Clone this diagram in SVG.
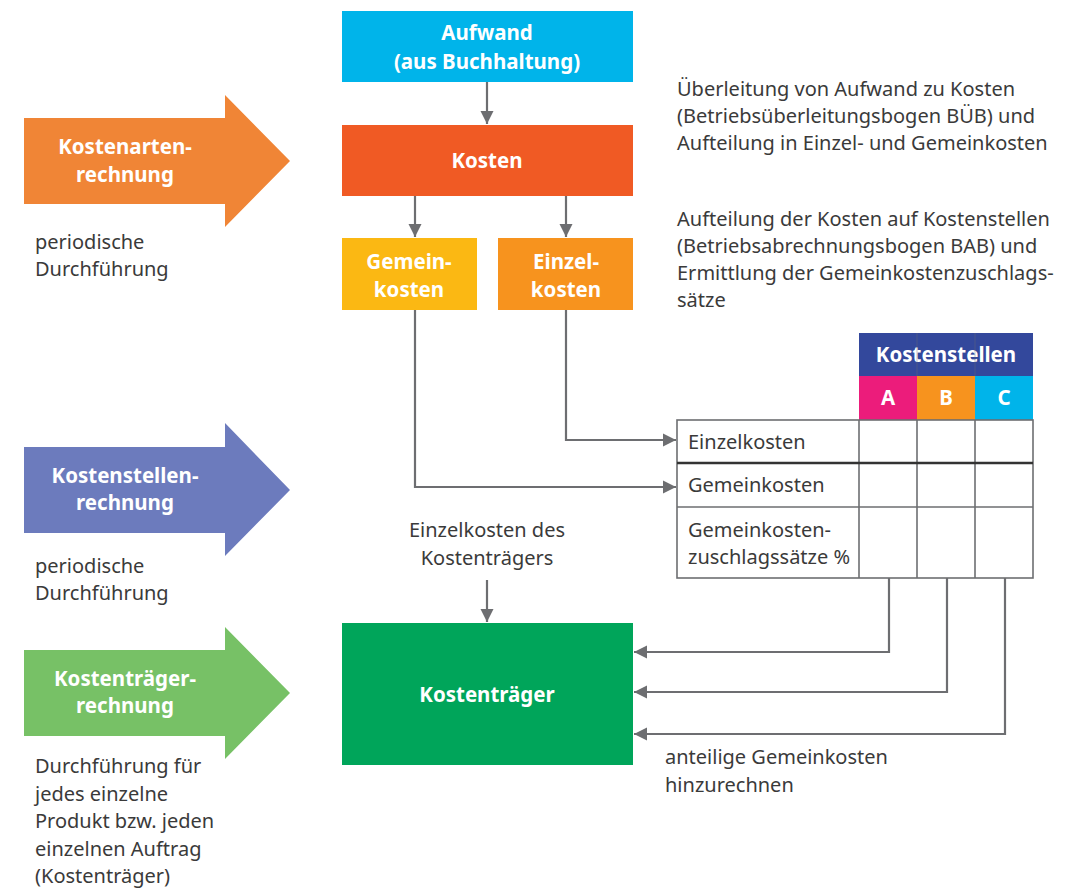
<svg xmlns="http://www.w3.org/2000/svg" width="1068" height="893" viewBox="0 0 1068 893">
<style>
.t{font-family:"Noto Sans","Open Sans",sans-serif;font-size:20px;fill:#3a3a3a}
.w{font-family:"Noto Sans","Open Sans",sans-serif;font-size:20.5px;font-weight:bold;fill:#ffffff;text-anchor:middle}
.ln{fill:none;stroke:#6d6e71;stroke-width:2.2}
.cell{fill:#ffffff;stroke:#6d6e71;stroke-width:1.6}
</style>
<defs>
<marker id="ah" viewBox="0 0 10 10" refX="10" refY="5" markerWidth="6" markerHeight="6" orient="auto" markerUnits="strokeWidth">
<path d="M0,0 L10,5 L0,10 z" fill="#6d6e71"/>
</marker>
</defs>
<rect width="1068" height="893" fill="#ffffff"/>

<g id="phase-kostenarten">
<path d="M24,118 H225 V95 L290,161 L225,227 V204 H24 z" fill="#f08536"/>
<text class="w" x="125" y="154">Kostenarten-</text>
<text class="w" x="125" y="182">rechnung</text>
<text class="t" x="35" y="249">periodische</text>
<text class="t" x="35" y="276">Durchführung</text>
</g>

<g id="phase-kostenstellen">
<path d="M24,447 H225 V423 L290,490 L225,556 V533 H24 z" fill="#6c7bbd"/>
<text class="w" x="125" y="483">Kostenstellen-</text>
<text class="w" x="125" y="510">rechnung</text>
<text class="t" x="35" y="573">periodische</text>
<text class="t" x="35" y="600">Durchführung</text>
</g>

<g id="phase-kostentraeger">
<path d="M24,650 H225 V627 L290,693 L225,759 V736 H24 z" fill="#77c166"/>
<text class="w" x="125" y="686">Kostenträger-</text>
<text class="w" x="125" y="713">rechnung</text>
<text class="t" x="35" y="773">Durchführung für</text>
<text class="t" x="35" y="801">jedes einzelne</text>
<text class="t" x="35" y="828">Produkt bzw. jeden</text>
<text class="t" x="35" y="856">einzelnen Auftrag</text>
<text class="t" x="35" y="883">(Kostenträger)</text>
</g>

<g id="node-aufwand">
<rect x="342" y="11" width="291" height="71" fill="#00b4ea"/>
<text class="w" x="487" y="40">Aufwand</text>
<text class="w" x="487" y="69">(aus Buchhaltung)</text>
</g>

<g id="node-kosten">
<rect x="342" y="125" width="291" height="71" fill="#f05a24"/>
<text class="w" x="487" y="168">Kosten</text>
</g>

<g id="node-gemeinkosten">
<rect x="342" y="238" width="135" height="72" fill="#fbb813"/>
<text class="w" x="409" y="269">Gemein-</text>
<text class="w" x="409" y="297">kosten</text>
</g>

<g id="node-einzelkosten">
<rect x="498" y="238" width="135" height="72" fill="#f7931e"/>
<text class="w" x="566" y="269">Einzel-</text>
<text class="w" x="566" y="297">kosten</text>
</g>

<g id="note-bueb">
<text class="t" x="677" y="96">Überleitung von Aufwand zu Kosten</text>
<text class="t" x="677" y="123">(Betriebsüberleitungsbogen BÜB) und</text>
<text class="t" x="677" y="150">Aufteilung in Einzel- und Gemeinkosten</text>
</g>

<g id="note-bab">
<text class="t" x="677" y="226">Aufteilung der Kosten auf Kostenstellen</text>
<text class="t" x="677" y="253">(Betriebsabrechnungsbogen BAB) und</text>
<text class="t" x="677" y="280">Ermittlung der Gemeinkostenzuschlags-</text>
<text class="t" x="677" y="307">sätze</text>
</g>

<g id="node-bab-table">
<rect x="859" y="333" width="174" height="43" fill="#33489c"/>
<text class="w" x="946" y="362">Kostenstellen</text>
<rect x="859" y="376" width="58" height="44" fill="#ec1c7b"/>
<rect x="917" y="376" width="58" height="44" fill="#f7931e"/>
<rect x="975" y="376" width="58" height="44" fill="#00b4ea"/>
<text class="w" x="888" y="405">A</text>
<text class="w" x="946" y="405">B</text>
<text class="w" x="1004" y="405">C</text>
<line x1="917" y1="333" x2="917" y2="376" stroke="#6d6e71" stroke-width="1" opacity="0.4"/>
<line x1="975" y1="333" x2="975" y2="376" stroke="#6d6e71" stroke-width="1" opacity="0.4"/>
<rect class="cell" x="677" y="420" width="356" height="158"/>
<line x1="859" y1="420" x2="859" y2="578" stroke="#6d6e71" stroke-width="1.6"/>
<line x1="917" y1="420" x2="917" y2="578" stroke="#6d6e71" stroke-width="1.6"/>
<line x1="975" y1="420" x2="975" y2="578" stroke="#6d6e71" stroke-width="1.6"/>
<line x1="677" y1="463" x2="1033" y2="463" stroke="#333333" stroke-width="2.4"/>
<line x1="677" y1="507" x2="1033" y2="507" stroke="#6d6e71" stroke-width="1.6"/>
<text class="t" x="688" y="449">Einzelkosten</text>
<text class="t" x="688" y="492">Gemeinkosten</text>
<text class="t" x="688" y="537">Gemeinkosten-</text>
<text class="t" x="688" y="564">zuschlagssätze %</text>
</g>

<g id="note-einzelkosten-kt">
<text class="t" x="487" y="537" text-anchor="middle">Einzelkosten des</text>
<text class="t" x="487" y="565" text-anchor="middle">Kostenträgers</text>
</g>

<g id="node-kostentraeger">
<rect x="342" y="623" width="291" height="142" fill="#00a55a"/>
<text class="w" x="487" y="702">Kostenträger</text>
</g>

<g id="note-anteilige">
<text class="t" x="665" y="764">anteilige Gemeinkosten</text>
<text class="t" x="665" y="792">hinzurechnen</text>
</g>

<g id="connectors">
<path class="ln" d="M487,82 V124" marker-end="url(#ah)"/>
<path class="ln" d="M415,196 V237" marker-end="url(#ah)"/>
<path class="ln" d="M566,196 V237" marker-end="url(#ah)"/>
<path class="ln" d="M566,310 V440 H676" marker-end="url(#ah)"/>
<path class="ln" d="M415,310 V487 H676" marker-end="url(#ah)"/>
<path class="ln" d="M487,580 V622" marker-end="url(#ah)"/>
<path class="ln" d="M889,578 V652 H634" marker-end="url(#ah)"/>
<path class="ln" d="M947,578 V692 H634" marker-end="url(#ah)"/>
<path class="ln" d="M1005,578 V734 H634" marker-end="url(#ah)"/>
</g>
</svg>
